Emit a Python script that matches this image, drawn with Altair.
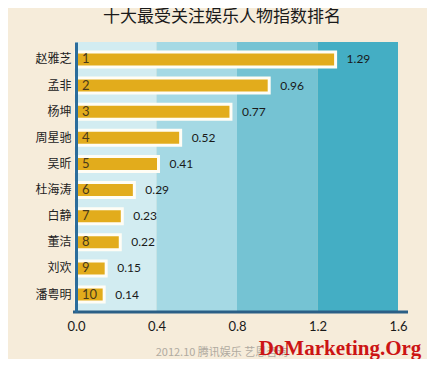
import altair as alt
import pandas as pd

title_text = "十大最受关注娱乐人物指数排名"
names = ["赵雅芝", "孟非", "杨坤", "周星驰", "吴昕", "杜海涛", "白静", "董洁", "刘欢", "潘粤明"]
ranks = ["1", "2", "3", "4", "5", "6", "7", "8", "9", "10"]
values = [1.29, 0.96, 0.77, 0.52, 0.41, 0.29, 0.23, 0.22, 0.15, 0.14]
band_starts = [0.0, 0.4, 0.8, 1.2]
band_ends = [0.4, 0.8, 1.2, 1.6]
band_colors = ["#d2ecf1", "#a5d9e4", "#75c3d3", "#44aec4"]
x_ticks = [0.0, 0.4, 0.8, 1.2, 1.6]
source_text = "2012.10 腾讯娱乐 艺恩咨询"
watermark_text = "DoMarketing.Org"

W, H = 322, 270

df = pd.DataFrame({"name": names, "rank": ranks, "value": values})
bands = pd.DataFrame({"s": band_starts, "e": band_ends, "c": band_colors})

xscale = alt.Scale(domain=[0, 1.6], nice=False, zero=True)
yscale = alt.Scale(domain=names, paddingInner=0, paddingOuter=0.17)

band_layer = alt.Chart(bands).mark_rect().encode(
    x=alt.X("s:Q", scale=xscale, axis=alt.Axis(
        values=x_ticks, format=".1f", grid=False, domain=False, ticks=False,
        labelPadding=8, labelFontSize=13, labelColor="#1a1a1a", labelFont="Lato",
        labelFlush=False, title=None)),
    x2="e:Q",
    y=alt.value(0),
    y2=alt.value(H),
    color=alt.Color("c:N", scale=None),
)

base = alt.Chart(df)

bars = base.mark_bar(color="#e2ac1c", stroke="#fffdf5", strokeWidth=3, size=15).encode(
    x=alt.X("value:Q", scale=xscale),
    x2=alt.datum(0),
    y=alt.Y("name:N", scale=yscale, sort=names, axis=alt.Axis(
        title=None, ticks=False, domain=True, domainColor="#2b6c9b", domainWidth=3,
        labelPadding=5, labelFontSize=12, labelColor="#222222",
        labelFont="Noto Sans CJK SC", zindex=1)),
)

rank_text = base.mark_text(align="left", baseline="middle", dx=6, fontSize=13,
                           font="Lato", color="#4a3a1a").encode(
    x=alt.datum(0), y=alt.Y("name:N", sort=names), text="rank:N")

value_text = base.mark_text(align="left", baseline="middle", dx=11, fontSize=12,
                            font="Lato", color="#1a1a1a").encode(
    x="value:Q", y=alt.Y("name:N", sort=names), text=alt.Text("value:Q", format=".2f"))

bottom_line = alt.Chart(pd.DataFrame({"a": [0]})).mark_rule(
    color="#2b5f86", strokeWidth=3).encode(
    x=alt.value(-3), x2=alt.value(332), y=alt.value(H))

source_mark = alt.Chart(pd.DataFrame({"t": [source_text]})).mark_text(
    fontSize=11, font="Noto Sans CJK SC", color="#b0aaa0", baseline="middle").encode(
    text="t:N", x=alt.value(146), y=alt.value(H + 41))

wm_mark = alt.Chart(pd.DataFrame({"t": [watermark_text]})).mark_text(
    fontSize=21, font="Liberation Serif", fontWeight="bold", color="#cc1414",
    baseline="middle").encode(
    text="t:N", x=alt.value(264), y=alt.value(H + 37))

chart = alt.layer(band_layer, bars, rank_text, value_text, bottom_line,
                  source_mark, wm_mark).properties(
    width=W, height=H,
    title=alt.TitleParams(title_text, anchor="middle", frame="group", dx=-15,
                          offset=16, fontSize=17, font="Noto Sans CJK SC",
                          fontWeight="normal", color="#1a1a1a"),
    autosize=alt.AutoSizeParams(type="none"),
    padding={"left": 68, "top": 34, "right": 29, "bottom": 47},
    background="#f6ecda",
).configure_view(stroke=None)

chart.save("out.html", embed_options={"renderer": "svg", "actions": False})
